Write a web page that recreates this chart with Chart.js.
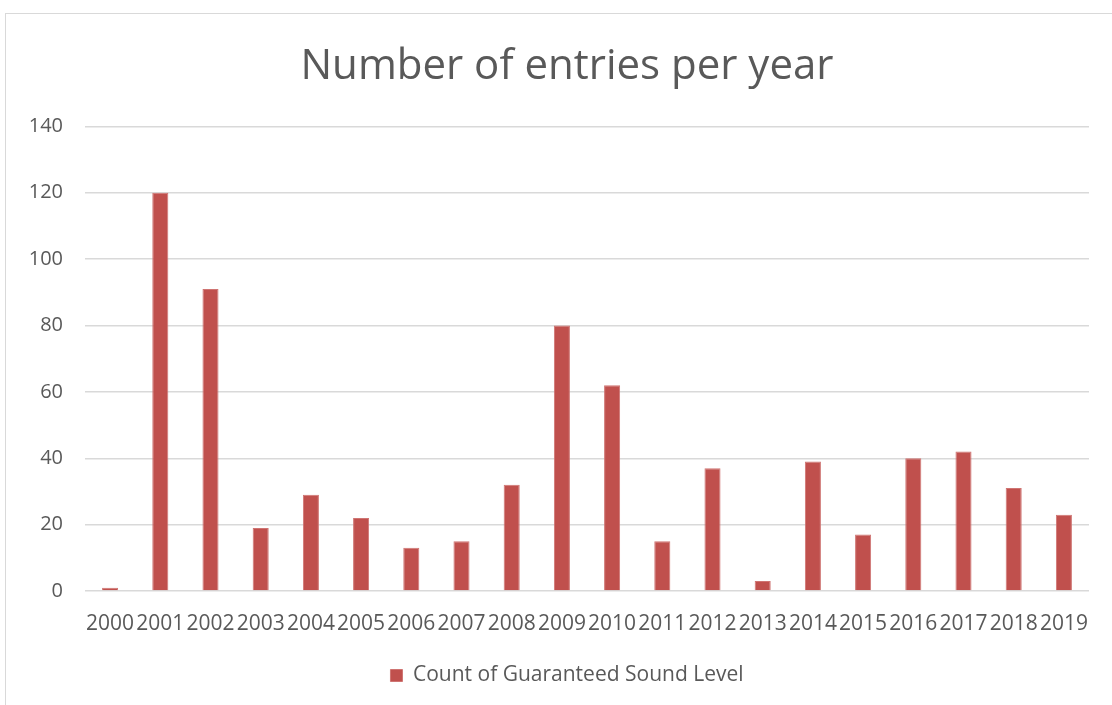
<!DOCTYPE html>
<html>
<head>
<meta charset="utf-8">
<script src="https://cdn.jsdelivr.net/npm/chart.js@4/dist/chart.umd.min.js"></script>
<style>
  html, body { margin: 0; padding: 0; background: #fff; overflow: hidden; }
  #frame {
    position: absolute; left: 5px; top: 13px; width: 1200px; height: 800px;
    border-top: 1px solid #d9d9d9; border-left: 1px solid #d9d9d9;
  }
  #wrap { position: absolute; left: 5px; top: 0; width: 1124px; height: 705px; }
</style>
</head>
<body>
<div id="frame"></div>
<div id="wrap"><canvas id="entriesChart"></canvas></div>
<script>
// entries per year
const years = ["2000", "2001", "2002", "2003", "2004", "2005", "2006", "2007", "2008", "2009",
               "2010", "2011", "2012", "2013", "2014", "2015", "2016", "2017", "2018", "2019"];
const counts = [1, 120, 91, 19, 29, 22, 13, 15, 32, 80,
                62, 15, 37, 3, 39, 17, 40, 42, 31, 23];
const seriesLabel = "Count of Guaranteed Sound Level";
const chartTitle = "Number of entries per year";

const textColor = "#595959";
const fontFamily = "'Open Sans', sans-serif";

new Chart(
document.getElementById("entriesChart"),
{
type: "bar",
data: {
labels: years,
datasets: [{
label: seriesLabel,
data: counts,
yAxisID: "y",
backgroundColor: "#c0504d",
borderColor: "#cf7472",
borderWidth: 1,
categoryPercentage: 1,
barPercentage: 0.32
}]
},
options: {
responsive: true,
maintainAspectRatio: false,
animation: false,
layout: {
padding: { top: 10, left: 15, right: 15, bottom: 9 }
},
plugins: {
title: {
display: true,
text: chartTitle,
color: textColor,
font: { family: fontFamily, size: 42, weight: "normal" },
padding: { top: 32, bottom: 34 }
},
legend: {
position: "bottom",
labels: {
color: textColor,
font: { family: fontFamily, size: 21 },
boxWidth: 12,
boxHeight: 12,
padding: 10
}
},
tooltip: { enabled: false }
},
scales: {
x: {
grid: { display: false, drawTicks: false },
border: { display: false },
ticks: {
color: textColor,
font: { family: fontFamily, size: 21 },
padding: 20,
maxRotation: 0,
autoSkip: false
},
afterFit: function(scale) { scale.height = 64; }
},
y: {
min: 0,
max: 140,
grid: { color: "#d9d9d9", lineWidth: 1.5, drawTicks: false },
border: { display: false },
ticks: {
stepSize: 20,
color: textColor,
font: { family: fontFamily, size: 20 },
padding: 22
},
afterFit: function(scale) { scale.width = 65; }
},
// empty right-hand gutter so the title and legend sit centred on the frame
gutter: {
type: "linear",
position: "right",
min: 0,
max: 140,
grid: { display: false, drawTicks: false },
border: { display: false },
ticks: { display: false },
afterFit: function(scale) { scale.width = 25; }
}
}
}
}
);
</script>
</body>
</html>
